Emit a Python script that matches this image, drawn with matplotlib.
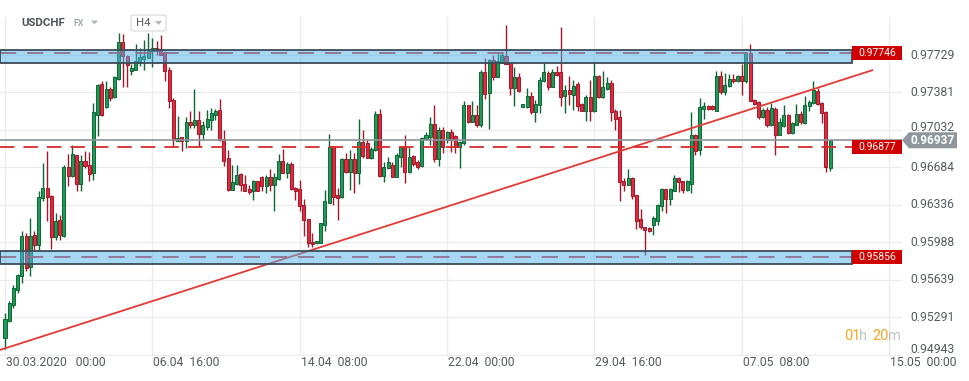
import matplotlib
matplotlib.use("Agg")
import matplotlib.pyplot as plt
from matplotlib.patches import Rectangle, Polygon, FancyBboxPatch
import numpy as np

plt.rcParams['font.family'] = ['Roboto', 'DejaVu Sans']

# ---------------- data ----------------
symbol = "USDCHF"
market = "FX"
timeframe = "H4"
x_tick_labels = ["30.03.2020   00:00", "06.04  16:00", "14.04  08:00", "22.04  00:00",
                 "29.04  16:00", "07.05  08:00", "15.05  00:00"]
x_tick_bars = [0, 35, 70, 105, 140, 175, 210]
y_ticks = [0.94943, 0.95291, 0.95639, 0.95988, 0.96336, 0.96684, 0.97032, 0.97381, 0.97729]

opens = [0.95100, 0.95258, 0.95406, 0.95546, 0.95676, 0.96047, 0.95760, 0.96057, 0.95964, 0.96401,
         0.96493, 0.96419, 0.96038, 0.96196, 0.96047, 0.96689, 0.96605, 0.96800, 0.96531, 0.96744,
         0.96707, 0.96633, 0.97172, 0.97460, 0.97246, 0.97413, 0.97339, 0.97506, 0.97850, 0.97720,
         0.97580, 0.97590, 0.97655, 0.97692, 0.97701, 0.97766, 0.97794, 0.97785, 0.97748, 0.97590,
         0.97311, 0.96930, 0.96967, 0.96930, 0.97107, 0.97079, 0.97125, 0.96995, 0.97060, 0.97125,
         0.97172, 0.97218, 0.96949, 0.96772, 0.96475, 0.96531, 0.96623, 0.96531, 0.96484, 0.96466,
         0.96558, 0.96596, 0.96512, 0.96596, 0.96521, 0.96577, 0.96744, 0.96633, 0.96716, 0.96493,
         0.96484, 0.96336, 0.96205, 0.95992, 0.95983, 0.95983, 0.96150, 0.96354, 0.96874, 0.96428,
         0.96410, 0.96763, 0.96642, 0.96763, 0.96633, 0.96921, 0.96912, 0.96772, 0.96846, 0.97181,
         0.96605, 0.96679, 0.96707, 0.96596, 0.96781, 0.96874, 0.96642, 0.96791, 0.96735, 0.96698,
         0.96949, 0.96967, 0.97088, 0.96763, 0.97032, 0.96939, 0.97014, 0.96977, 0.96874, 0.96912,
         0.97265, 0.97107, 0.97172, 0.97079, 0.97571, 0.97376, 0.97683, 0.97525, 0.97655, 0.97720,
         0.97655, 0.97422, 0.97525, 0.97246, 0.97246, 0.97348, 0.97200, 0.97265, 0.97488, 0.97562,
         0.97432, 0.97571, 0.97571, 0.97348, 0.97404, 0.97357, 0.97460, 0.97274, 0.97209, 0.97339,
         0.97209, 0.97534, 0.97339, 0.97413, 0.97469, 0.97209, 0.97153, 0.96558, 0.96521, 0.96586,
         0.96428, 0.96205, 0.96131, 0.96122, 0.96150, 0.96187, 0.96326, 0.96484, 0.96391, 0.96466,
         0.96586, 0.96558, 0.96475, 0.96531, 0.96986, 0.96846, 0.97227, 0.97255, 0.97255, 0.97209,
         0.97534, 0.97385, 0.97441, 0.97506, 0.97488, 0.97534, 0.97488, 0.97748, 0.97311, 0.97292,
         0.97153, 0.97218, 0.97079, 0.97227, 0.96986, 0.97069, 0.97172, 0.97004, 0.97079, 0.97181,
         0.97097, 0.97255, 0.97283, 0.97395, 0.97283, 0.97200, 0.96679]
highs = [0.95332, 0.95444, 0.95592, 0.95695, 0.96094, 0.96075, 0.96215, 0.96094, 0.96466, 0.96726,
         0.96837, 0.96428, 0.96261, 0.96243, 0.96707, 0.96809, 0.96893, 0.96800, 0.96800, 0.96837,
         0.96828, 0.97283, 0.97460, 0.97488, 0.97488, 0.97432, 0.97534, 0.97933, 0.97924, 0.97729,
         0.97645, 0.97831, 0.97794, 0.97868, 0.97933, 0.97887, 0.97859, 0.97915, 0.97766, 0.97618,
         0.97330, 0.97162, 0.96967, 0.97153, 0.97209, 0.97413, 0.97209, 0.97116, 0.97218, 0.97237,
         0.97227, 0.97320, 0.97032, 0.96846, 0.96707, 0.96707, 0.96633, 0.96614, 0.96521, 0.96568,
         0.96558, 0.96605, 0.96614, 0.96670, 0.96633, 0.96809, 0.96856, 0.96735, 0.96735, 0.96503,
         0.96568, 0.96391, 0.96205, 0.96075, 0.96001, 0.96168, 0.96475, 0.96995, 0.96874, 0.96493,
         0.96772, 0.96819, 0.96846, 0.96819, 0.97135, 0.97032, 0.96939, 0.96874, 0.97209, 0.97227,
         0.96735, 0.96781, 0.96735, 0.96819, 0.96884, 0.96986, 0.96874, 0.96800, 0.96754, 0.96967,
         0.97014, 0.97153, 0.97265, 0.97060, 0.97060, 0.97023, 0.97042, 0.96986, 0.96930, 0.97302,
         0.97265, 0.97302, 0.97265, 0.97590, 0.97701, 0.97692, 0.97729, 0.97748, 0.97748, 0.98008,
         0.97664, 0.97618, 0.97562, 0.97274, 0.97422, 0.97385, 0.97311, 0.97525, 0.97655, 0.97580,
         0.97599, 0.97627, 0.97989, 0.97450, 0.97534, 0.97497, 0.97478, 0.97283, 0.97357, 0.97497,
         0.97664, 0.97543, 0.97580, 0.97525, 0.97497, 0.97227, 0.97218, 0.96586, 0.96670, 0.96596,
         0.96428, 0.96298, 0.96131, 0.96131, 0.96233, 0.96345, 0.96493, 0.96484, 0.96493, 0.96614,
         0.96596, 0.96558, 0.96568, 0.97200, 0.96995, 0.97330, 0.97292, 0.97265, 0.97265, 0.97580,
         0.97580, 0.97562, 0.97553, 0.97553, 0.97543, 0.97645, 0.97757, 0.97831, 0.97320, 0.97302,
         0.97237, 0.97246, 0.97283, 0.97246, 0.97144, 0.97265, 0.97181, 0.97107, 0.97274, 0.97209,
         0.97348, 0.97311, 0.97488, 0.97422, 0.97292, 0.97209, 0.96939]
lows = [0.94998, 0.95249, 0.95379, 0.95518, 0.95611, 0.95722, 0.95676, 0.95908, 0.95918, 0.96373,
        0.96187, 0.95927, 0.96010, 0.96010, 0.96038, 0.96512, 0.96596, 0.96466, 0.96466, 0.96679,
        0.96558, 0.96568, 0.96977, 0.97162, 0.97237, 0.97302, 0.97330, 0.97497, 0.97432, 0.97432,
        0.97543, 0.97590, 0.97627, 0.97590, 0.97701, 0.97618, 0.97729, 0.97729, 0.97488, 0.97237,
        0.96884, 0.96930, 0.96837, 0.96865, 0.97051, 0.97051, 0.96884, 0.96939, 0.97032, 0.97032,
        0.97125, 0.96930, 0.96698, 0.96466, 0.96475, 0.96521, 0.96466, 0.96466, 0.96438, 0.96382,
        0.96466, 0.96466, 0.96447, 0.96466, 0.96280, 0.96568, 0.96633, 0.96586, 0.96475, 0.96382,
        0.96280, 0.96047, 0.95946, 0.95946, 0.95974, 0.95983, 0.96094, 0.96354, 0.96336, 0.96196,
        0.96401, 0.96633, 0.96475, 0.96447, 0.96531, 0.96772, 0.96772, 0.96763, 0.96837, 0.96596,
        0.96549, 0.96670, 0.96596, 0.96596, 0.96689, 0.96540, 0.96633, 0.96698, 0.96670, 0.96689,
        0.96939, 0.96893, 0.96735, 0.96698, 0.96819, 0.96912, 0.96828, 0.96819, 0.96679, 0.96893,
        0.97097, 0.97107, 0.97060, 0.97060, 0.97320, 0.97042, 0.97497, 0.97525, 0.97655, 0.97645,
        0.97357, 0.97255, 0.97385, 0.97246, 0.97237, 0.97181, 0.97107, 0.97190, 0.97478, 0.97404,
        0.97432, 0.97534, 0.97255, 0.97190, 0.97265, 0.97218, 0.97209, 0.97209, 0.97116, 0.97116,
        0.97200, 0.97330, 0.97330, 0.97404, 0.97116, 0.97032, 0.96373, 0.96466, 0.96521, 0.96391,
        0.96112, 0.96112, 0.95871, 0.96085, 0.96057, 0.96150, 0.96280, 0.96261, 0.96336, 0.96466,
        0.96456, 0.96447, 0.96466, 0.96447, 0.96800, 0.96800, 0.97135, 0.97218, 0.97218, 0.97209,
        0.97367, 0.97357, 0.97432, 0.97469, 0.97478, 0.97357, 0.97469, 0.97302, 0.97265, 0.97135,
        0.97144, 0.97060, 0.97069, 0.96800, 0.96986, 0.97060, 0.96995, 0.96995, 0.97079, 0.97088,
        0.97088, 0.97209, 0.97274, 0.97265, 0.97097, 0.96642, 0.96651]
closes = [0.95277, 0.95425, 0.95565, 0.95685, 0.96047, 0.95750, 0.96047, 0.95964, 0.96410, 0.96493,
          0.96410, 0.96038, 0.96187, 0.96057, 0.96689, 0.96605, 0.96809, 0.96531, 0.96744, 0.96698,
          0.96623, 0.97200, 0.97450, 0.97172, 0.97413, 0.97330, 0.97525, 0.97850, 0.97720, 0.97636,
          0.97608, 0.97673, 0.97710, 0.97720, 0.97766, 0.97794, 0.97766, 0.97729, 0.97580, 0.97302,
          0.96939, 0.96958, 0.96930, 0.97107, 0.97079, 0.97125, 0.96995, 0.97079, 0.97135, 0.97190,
          0.97209, 0.96939, 0.96744, 0.96475, 0.96549, 0.96614, 0.96521, 0.96466, 0.96456, 0.96558,
          0.96466, 0.96512, 0.96596, 0.96521, 0.96596, 0.96744, 0.96633, 0.96716, 0.96484, 0.96466,
          0.96326, 0.96196, 0.95983, 0.95974, 0.96001, 0.96168, 0.96373, 0.96874, 0.96410, 0.96401,
          0.96763, 0.96642, 0.96763, 0.96633, 0.96921, 0.96791, 0.96772, 0.96856, 0.97181, 0.96605,
          0.96689, 0.96735, 0.96596, 0.96800, 0.96874, 0.96642, 0.96781, 0.96716, 0.96689, 0.96958,
          0.96986, 0.97088, 0.96763, 0.97032, 0.96874, 0.97014, 0.96939, 0.96874, 0.96921, 0.97265,
          0.97107, 0.97172, 0.97079, 0.97571, 0.97367, 0.97683, 0.97525, 0.97673, 0.97729, 0.97645,
          0.97422, 0.97525, 0.97395, 0.97274, 0.97348, 0.97200, 0.97274, 0.97497, 0.97571, 0.97432,
          0.97571, 0.97543, 0.97339, 0.97404, 0.97367, 0.97441, 0.97255, 0.97209, 0.97339, 0.97209,
          0.97534, 0.97339, 0.97432, 0.97469, 0.97200, 0.97135, 0.96549, 0.96521, 0.96586, 0.96419,
          0.96187, 0.96131, 0.96103, 0.96094, 0.96215, 0.96336, 0.96484, 0.96391, 0.96484, 0.96586,
          0.96549, 0.96475, 0.96558, 0.96986, 0.96837, 0.97246, 0.97255, 0.97227, 0.97227, 0.97534,
          0.97385, 0.97450, 0.97506, 0.97488, 0.97534, 0.97488, 0.97748, 0.97302, 0.97274, 0.97153,
          0.97218, 0.97079, 0.97237, 0.96986, 0.97107, 0.97172, 0.97004, 0.97097, 0.97181, 0.97107,
          0.97265, 0.97292, 0.97404, 0.97274, 0.97190, 0.96689, 0.96937]

resistance_level = 0.97746
resistance_zone = [0.97653, 0.97779]
support_level = 0.95856
support_zone = [0.95785, 0.95908]
pivot_level = 0.96877
last_price = 0.96937
trend_bars = [-1.2, 206.2]
trend_prices = [0.94989, 0.97590]
timer_parts = [("01", "orange"), ("h", "grey"), ("20", "orange"), ("m", "grey")]

# ---------------- layout ----------------
W, H = 970, 381
AX_L, AX_R, AX_T, AX_B = 0, 902, 17, 356
X0_PX, BAR_PX = 5.0, 4.21
P_TOP, P_BOT = 0.98082, 0.94933
PX_PER_PRICE = (AX_B - AX_T) / (P_TOP - P_BOT)

def bar_of_px(px):
    return (px - X0_PX) / BAR_PX

def dprice(px):
    return px / PX_PER_PRICE

fig = plt.figure(figsize=(W / 100, H / 100), dpi=100)
fig.patch.set_facecolor("white")
ax = fig.add_axes([AX_L / W, 1 - AX_B / H, (AX_R - AX_L) / W, (AX_B - AX_T) / H])
ax.set_xlim(bar_of_px(AX_L), bar_of_px(AX_R))
ax.set_ylim(P_BOT, P_TOP)
for s in ax.spines.values():
    s.set_visible(False)
ax.set_xticks([])
ax.set_yticks([])

GRID = "#ececec"
for t in y_ticks:
    ax.axhline(t, color=GRID, lw=1.0, zorder=0)
for b in x_tick_bars:
    ax.axvline(b, color=GRID, lw=1.0, zorder=0)

# ---------------- candles ----------------
o = np.array(opens); h = np.array(highs); l = np.array(lows); c = np.array(closes)
x = np.arange(len(o))
up = c >= o
G_FILL, G_EDGE = "#1f9a57", "#0d6636"
R_FILL, R_EDGE = "#e3293c", "#a3172a"
wick_cols = np.where(up, G_EDGE, R_EDGE)
ax.vlines(x, l, h, colors=wick_cols, lw=1.0, zorder=2)
bottom = np.minimum(o, c)
height = np.maximum(np.abs(c - o), dprice(1.5))
ax.bar(x[up], height[up], bottom=bottom[up], width=0.72, color=G_FILL,
       edgecolor=G_EDGE, linewidth=0.7, zorder=2.5)
ax.bar(x[~up], height[~up], bottom=bottom[~up], width=0.72, color=R_FILL,
       edgecolor=R_EDGE, linewidth=0.7, zorder=2.5)

# ---------------- drawings ----------------
x_left = bar_of_px(AX_L)
x_lab = bar_of_px(852)
x_right = bar_of_px(AX_R)

ax.plot(trend_bars, trend_prices, color="#e53935", lw=1.3, zorder=3, solid_capstyle="butt")

for lvl in (resistance_level, support_level):
    ax.hlines(lvl, x_left, x_lab, color="#cf2f3a", lw=1.3, linestyles=(0, (9, 6)), zorder=3.2)
for lo, hi in (resistance_zone, support_zone):
    ax.add_patch(Rectangle((x_left, lo), x_lab - x_left, hi - lo, facecolor="#4fb3e8",
                           alpha=0.5, edgecolor="none", zorder=4))
    ax.add_patch(Rectangle((x_left, lo), x_lab - x_left, hi - lo, facecolor="none",
                           edgecolor="#3b4b57", lw=1.3, zorder=4.5))

ax.hlines(pivot_level, x_left, x_lab, color="#d62b2b", lw=1.3, linestyles=(0, (8, 5)), zorder=5)
ax.axhline(last_price, color="#8d9499", lw=1.2, zorder=5)

# red price labels
for lvl in (resistance_level, pivot_level, support_level):
    ax.add_patch(Rectangle((x_lab, lvl - dprice(7)), x_right - x_lab, dprice(14),
                           facecolor="#d10000", edgecolor="none", zorder=6, clip_on=False))
    ax.text(bar_of_px(877), lvl, f"{lvl:.5f}", color="white", fontsize=7.5,
            ha="center", va="center", zorder=7, clip_on=False)

# grey last-price label with arrow
yc = last_price
poly = Polygon([[bar_of_px(902), yc], [bar_of_px(909), yc + dprice(8)],
                [bar_of_px(957), yc + dprice(8)], [bar_of_px(957), yc - dprice(8)],
                [bar_of_px(909), yc - dprice(8)]], closed=True,
               facecolor="#8f979c", edgecolor="none", zorder=8, clip_on=False)
ax.add_patch(poly)
ax.text(bar_of_px(933), yc, f"{last_price:.5f}", color="white", fontsize=8.6,
        fontweight="bold", ha="center", va="center", zorder=9, clip_on=False)

# price axis labels
for t in y_ticks:
    dy = 5 if t == y_ticks[0] else 0
    if 0 < t - last_price < dprice(14):
        dy = 3
    ax.annotate(f"{t:.5f}", xy=(1, t), xycoords=("axes fraction", "data"),
                xytext=(8, dy), textcoords="offset pixels", ha="left", va="center",
                fontsize=8.7, color="#555a5e", annotation_clip=False, zorder=1)

# time axis labels
for b, lab in zip(x_tick_bars, x_tick_labels):
    ax.annotate(lab, xy=(b, 0), xycoords=("data", "axes fraction"),
                xytext=(1, -7), textcoords="offset pixels", ha="left", va="center",
                fontsize=8.7, color="#555a5e", annotation_clip=False)

# header
fig.text(21 / W, 1 - 23 / H, symbol, fontsize=8.2, fontweight="bold", color="#4b5157",
         ha="left", va="center")
fig.text(74 / W, 1 - 24 / H, market, fontsize=6.3, fontweight="bold", color="#a3abb2",
         ha="left", va="center")
fig.patches.append(Polygon([[91 / W, 1 - 20.5 / H], [98 / W, 1 - 20.5 / H], [94.5 / W, 1 - 24.5 / H]],
                           closed=True, transform=fig.transFigure, facecolor="#b3b9be",
                           edgecolor="none"))
fig.patches.append(FancyBboxPatch((131 / W, 1 - 31 / H), 35 / W, 16 / H,
                                  boxstyle="round,pad=0,rounding_size=0.004",
                                  transform=fig.transFigure, facecolor="white",
                                  edgecolor="#dcdcdc", lw=0.9))
fig.text(136 / W, 1 - 23 / H, timeframe, fontsize=8.2, color="#555a5e", ha="left", va="center")
fig.patches.append(Polygon([[155 / W, 1 - 21 / H], [162 / W, 1 - 21 / H], [158.5 / W, 1 - 25 / H]],
                           closed=True, transform=fig.transFigure, facecolor="#b3b9be",
                           edgecolor="none"))

# timer
timer_x = [844, 859.5, 872, 888.5]
col_map = {"orange": "#f5a623", "grey": "#c0c4c7"}
for (txt, col), px in zip(timer_parts, timer_x):
    fig.text(px / W, 1 - 336 / H, txt, fontsize=10.5, color=col_map[col],
             ha="left", va="center")

fig.savefig("out.png", dpi=100)
